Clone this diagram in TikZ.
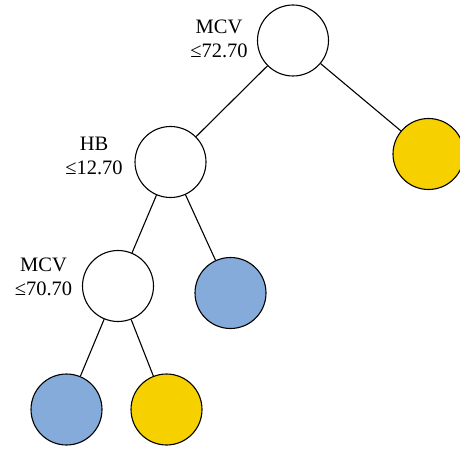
\documentclass[tikz,border=0pt]{standalone}
\usepackage{fontspec}
\setmainfont{Liberation Serif}
\definecolor{leafblue}{RGB}{132,171,217}
\definecolor{leafyellow}{RGB}{247,208,0}
\tikzset{
  split/.style={circle, draw=black, line width=1.1pt, minimum size=71pt, inner sep=0pt, fill=white},
  bleaf/.style={split, fill=leafblue},
  yleaf/.style={split, fill=leafyellow},
  rule/.style={align=center, font=\fontsize{20.5}{24}\selectfont, inner sep=0pt},
  edge/.style={draw=black, line width=1.1pt}
}
\begin{document}
\begin{tikzpicture}[x=1pt,y=-1pt]
  \useasboundingbox (0,0) rectangle (460,449);
  % internal split nodes
  \node[split] (root) at (293,40.5) {};
  \node[split] (hb) at (170.5,162) {};
  \node[split] (mcv) at (118,286) {};
  % leaves
  \node[yleaf] (r) at (428.5,154) {};
  \node[bleaf] (hbr) at (230.5,293) {};
  \node[bleaf] (ll) at (66.5,409.5) {};
  \node[yleaf] (lr) at (166.5,409.5) {};
  % split rules
  \node[rule] (t1) at (219,39) {MCV\\≤72.70};
  \node[rule] (t2) at (94,156) {HB\\≤12.70};
  \node[rule] (t3) at (43.5,277) {MCV\\≤70.70};
  % branches
  \draw[edge] (root) -- (hb);
  \draw[edge] (root) -- (r);
  \draw[edge] (hb) -- (mcv);
  \draw[edge] (hb) -- (hbr);
  \draw[edge] (mcv) -- (ll);
  \draw[edge] (mcv) -- (lr);
\end{tikzpicture}
\end{document}
